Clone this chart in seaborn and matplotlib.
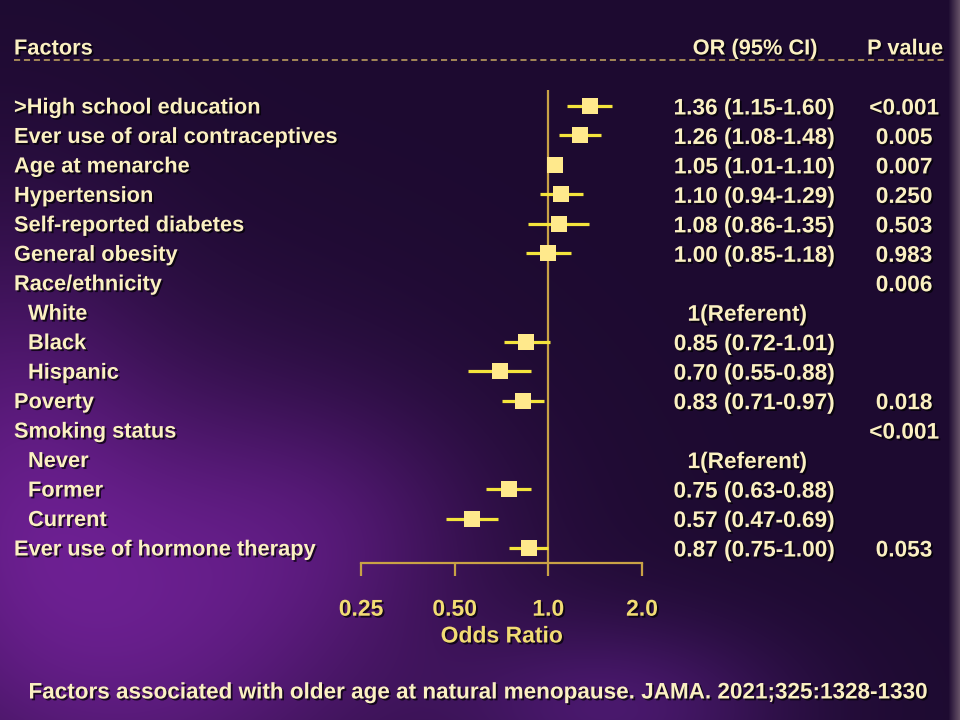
import numpy as np
import pandas as pd
import matplotlib
matplotlib.use("Agg")
import matplotlib.pyplot as plt
import matplotlib.transforms as mtransforms
import matplotlib.patheffects as pe
import seaborn as sns

# ---- data ----
factors = [">High school education", "Ever use of oral contraceptives", "Age at menarche",
           "Hypertension", "Self-reported diabetes", "General obesity", "Race/ethnicity",
           "White", "Black", "Hispanic", "Poverty", "Smoking status",
           "Never", "Former", "Current", "Ever use of hormone therapy"]
sub_row = [False, False, False, False, False, False, False,
           True, True, True, False, False, True, True, True, False]
odds = [1.36, 1.26, 1.05, 1.10, 1.08, 1.00, np.nan, np.nan, 0.85, 0.70, 0.83,
        np.nan, np.nan, 0.75, 0.57, 0.87]
ci_low = [1.15, 1.08, 1.01, 0.94, 0.86, 0.85, np.nan, np.nan, 0.72, 0.55, 0.71,
          np.nan, np.nan, 0.63, 0.47, 0.75]
ci_high = [1.60, 1.48, 1.10, 1.29, 1.35, 1.18, np.nan, np.nan, 1.01, 0.88, 0.97,
           np.nan, np.nan, 0.88, 0.69, 1.00]
or_text = ["1.36 (1.15-1.60)", "1.26 (1.08-1.48)", "1.05 (1.01-1.10)", "1.10 (0.94-1.29)",
           "1.08 (0.86-1.35)", "1.00 (0.85-1.18)", "", "1(Referent)", "0.85 (0.72-1.01)",
           "0.70 (0.55-0.88)", "0.83 (0.71-0.97)", "", "1(Referent)", "0.75 (0.63-0.88)",
           "0.57 (0.47-0.69)", "0.87 (0.75-1.00)"]
p_text = ["<0.001", "0.005", "0.007", "0.250", "0.503", "0.983", "0.006", "", "", "",
          "0.018", "<0.001", "", "", "", "0.053"]
ticks = [0.25, 0.5, 1.0, 2.0]
tick_labels = ["0.25", "0.50", "1.0", "2.0"]

df = pd.DataFrame({"factor": factors, "row": np.arange(len(factors)),
                   "odds": odds, "lo": ci_low, "hi": ci_high})

TEXT = "#fbf0c2"
YELLOW = "#f2dc74"
MARK = "#ffe98c"
CI = "#f4e43c"
GOLD = "#c9a246"

sns.set_style("white")
plt.rcParams["font.family"] = ["Liberation Sans", "DejaVu Sans"]
plt.rcParams["font.weight"] = "bold"

W, H = 960, 720
fig = plt.figure(figsize=(9.6, 7.2), dpi=100)


def background(w, h):
    yy, xx = np.mgrid[0:h, 0:w].astype(float)
    img = np.zeros((h, w, 3))
    img[:] = [0.115, 0.042, 0.19]
    glows = [((140, 620), (280, 240), [0.26, 0.07, 0.32]),
             ((620, 710), (170, 90), [0.16, 0.05, 0.22]),
             ((0, 420), (150, 230), [0.14, 0.035, 0.17]),
             ((330, 520), (160, 120), [0.08, 0.02, 0.10])]
    for (cx, cy), (sx, sy), col in glows:
        g = np.exp(-(((xx - cx) / sx) ** 2 + ((yy - cy) / sy) ** 2))
        img += g[..., None] * np.array(col)
    edge = np.clip((xx - 948) / 12, 0, 1)
    img = img * (1 - edge[..., None]) + edge[..., None] * np.array([0.42, 0.34, 0.42])
    return np.clip(img, 0, 1)


bg = fig.add_axes([0, 0, 1, 1])
bg.imshow(background(W, H), aspect="auto", extent=[0, 1, 0, 1], zorder=0)
bg.axis("off")

ax = fig.add_axes([0, 0, 1, 1], facecolor="none")
ax.set_xscale("log", base=2)
px_per = (642 - 361) / 3.0
ax.set_xlim(2 ** (-548.3 / px_per), 2 ** ((W - 548.3) / px_per))
row_px = (548 - 106) / 15.0
ax.set_ylim((H - 106) / row_px, -106 / row_px)


def row_of(py):
    return (py - 106) / row_px


# reference line at OR = 1
ax.vlines(1.0, row_of(90), row_of(563), color=GOLD, lw=1.6, zorder=2)

# confidence intervals and point estimates
ci_df = df.dropna()
ax.hlines(ci_df["row"], ci_df["lo"], ci_df["hi"], color=CI, lw=2.3, zorder=3)
sns.scatterplot(data=ci_df, x="odds", y="row", marker="s", s=118, color=MARK,
                linewidth=0, ax=ax, zorder=4, legend=False)

# bottom axis
for name in ["top", "right", "left"]:
    ax.spines[name].set_visible(False)
ax.spines["bottom"].set_position(("data", row_of(563)))
ax.spines["bottom"].set_bounds(0.25, 2.0)
ax.spines["bottom"].set_color(GOLD)
ax.spines["bottom"].set_linewidth(1.6)
ax.set_xticks(ticks)
ax.set_xticklabels(tick_labels)
ax.minorticks_off()
ax.tick_params(axis="x", direction="out", length=9.5, width=1.6, color=GOLD,
               labelcolor=YELLOW, labelsize=16.5, pad=15.5, bottom=True)
ax.set_yticks([])
ax.set_xlabel("")
ax.set_ylabel("")

shadow = [pe.SimplePatchShadow(offset=(1.3, -1.3), shadow_rgbFace="black", alpha=0.7),
          pe.Normal()]
for lab in ax.get_xticklabels():
    lab.set_path_effects(shadow)

ax.text(2 ** -0.5, row_of(636), "Odds Ratio", color=YELLOW, fontsize=16.5,
        ha="center", va="center", path_effects=shadow)

tr = mtransforms.blended_transform_factory(ax.transAxes, ax.transData)
nudge = 2.0 / row_px


def put(px, row, s, ha="left", size=15.7, color=TEXT):
    ax.text(px / W, row + nudge, s, transform=tr, ha=ha, va="center", fontsize=size,
            color=color, path_effects=shadow)


# header
put(14, row_of(47), "Factors")
put(755, row_of(47), "OR (95% CI)", ha="center")
put(905, row_of(47), "P value", ha="center")
ax.plot([14 / W, 945 / W], [row_of(60), row_of(60)], transform=tr, color="#c8aa62",
        lw=1.1, ls=(0, (4, 2.5)))

for i, name in enumerate(factors):
    put(28 if sub_row[i] else 14, i, name)
    if or_text[i]:
        cx = 747 if "Referent" in or_text[i] else 754
        put(cx, i, or_text[i], ha="center", size=16.3)
    if p_text[i]:
        put(904, i, p_text[i], ha="center", size=16.3)

put(478, row_of(691), "Factors associated with older age at natural menopause. JAMA. 2021;325:1328-1330",
    ha="center", size=16.2)

fig.savefig("out.png", dpi=100)
